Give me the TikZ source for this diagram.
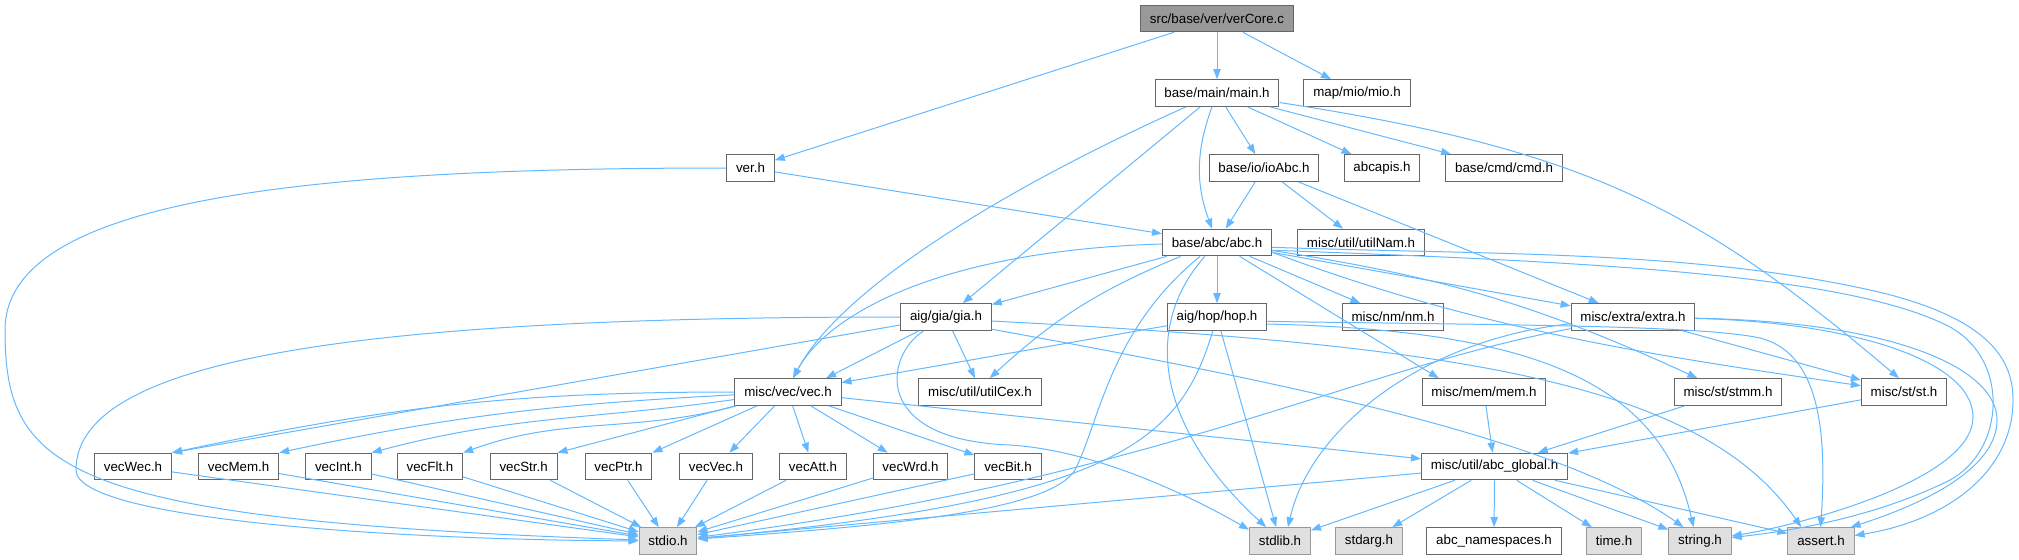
\documentclass[tikz,border=0pt]{standalone}
\usepackage{fontspec}
\setmainfont{Liberation Sans}
\usepackage{color}
\usetikzlibrary{arrows.meta}

\definecolor{edgeblue}{HTML}{63B8FF}
\definecolor{boxline}{HTML}{666666}
\definecolor{sysline}{HTML}{999999}
\definecolor{sysfill}{HTML}{E0E0E0}
\definecolor{rootfill}{HTML}{999999}

\begin{document}
\begin{tikzpicture}[x=0.75pt,y=-0.75pt,
  file/.style={draw=boxline,fill=white,line width=0.75pt,minimum height=20pt,
    inner xsep=7pt,inner ysep=0pt,font=\fontsize{10}{12}\selectfont},
  sysfile/.style={file,draw=sysline,fill=sysfill},
  rootfile/.style={file,fill=rootfill},
  dep/.style={draw=edgeblue,line width=0.75pt,-{Triangle[length=7.5pt,width=5.5pt]}}]
  \useasboundingbox (0,0) rectangle (2019,560);

  % files, row by row
  \node[rootfile] (verCore) at (1217,18.5) {src/base/ver/verCore.c};
  \node[file] (main) at (1217,93) {base/main/main.h};
  \node[file] (mio) at (1357,93) {map/mio/mio.h};
  \node[file] (ver) at (750.5,168) {ver.h};
  \node[file] (ioAbc) at (1264,168) {base/io/ioAbc.h};
  \node[file] (abcapis) at (1382,168) {abcapis.h};
  \node[file] (cmd) at (1504,168) {base/cmd/cmd.h};
  \node[file] (abc) at (1217,242.5) {base/abc/abc.h};
  \node[file] (utilNam) at (1361,242.5) {misc/util/utilNam.h};
  \node[file] (gia) at (946,317) {aig/gia/gia.h};
  \node[file] (hop) at (1217,317) {aig/hop/hop.h};
  \node[file] (nm) at (1393,317) {misc/nm/nm.h};
  \node[file] (extra) at (1633,317) {misc/extra/extra.h};
  \node[file] (vec) at (788,392) {misc/vec/vec.h};
  \node[file] (utilCex) at (980,392) {misc/util/utilCex.h};
  \node[file] (mem) at (1484,392) {misc/mem/mem.h};
  \node[file] (stmm) at (1728,392) {misc/st/stmm.h};
  \node[file] (st) at (1904,392) {misc/st/st.h};
  \node[file] (vecWec) at (133,466.5) {vecWec.h};
  \node[file] (vecMem) at (238.6,466.5) {vecMem.h};
  \node[file] (vecInt) at (338.4,466.5) {vecInt.h};
  \node[file] (vecFlt) at (430,466.5) {vecFlt.h};
  \node[file] (vecStr) at (523.6,466.5) {vecStr.h};
  \node[file] (vecPtr) at (618.5,466.5) {vecPtr.h};
  \node[file] (vecVec) at (716,466.5) {vecVec.h};
  \node[file] (vecAtt) at (813,466.5) {vecAtt.h};
  \node[file] (vecWrd) at (910.5,466.5) {vecWrd.h};
  \node[file] (vecBit) at (1008,466.5) {vecBit.h};
  \node[file] (abcGlobal) at (1494.5,466.5) {misc/util/abc\_global.h};
  \node[sysfile] (stdio) at (668,541) {stdio.h};
  \node[sysfile] (stdlib) at (1280,541) {stdlib.h};
  \node[sysfile] (stdarg) at (1369,541) {stdarg.h};
  \node[file] (abcNs) at (1494,541) {abc\_namespaces.h};
  \node[sysfile] (time) at (1614,541) {time.h};
  \node[sysfile] (string) at (1700,541) {string.h};
  \node[sysfile] (assert) at (1821,541) {assert.h};

  % verCore.c
  \draw[dep] (verCore) -- (ver);
  \draw[dep] (verCore) -- (main);
  \draw[dep] (verCore) -- (mio);

  % main.h
  \draw[dep] (main) -- (ioAbc);
  \draw[dep] (main) -- (abcapis);
  \draw[dep] (main) -- (cmd);
  \draw[dep] (main) -- (gia);
  \draw[dep] (main) to[bend right=20] (abc);
  \draw[dep]
    (main) .. controls (1000,190) and (840,290) .. (vec.70);
  \draw[dep]
    (main) .. controls (1590,150) and (1700,210) .. (st.110);

  % ver.h
  \draw[dep] (ver) -- (abc);
  \draw[dep]
    (ver) .. controls (300,168) and (5,200) .. (5,330)
    .. controls (5,470) and (60,520) .. (stdio);

  % ioAbc.h
  \draw[dep] (ioAbc) -- (abc);
  \draw[dep] (ioAbc) -- (utilNam);
  \draw[dep] (ioAbc) -- (extra);

  % abc.h
  \draw[dep] (abc) -- (gia);
  \draw[dep] (abc) -- (hop);
  \draw[dep] (abc) -- (nm);
  \draw[dep] (abc) -- (extra);
  \draw[dep] (abc) -- (mem.163);
  \draw[dep] (abc) to[bend left=8] (stmm);
  \draw[dep] (abc) to[bend right=10] (utilCex.55);
  \draw[dep]
    (abc) .. controls (950,250) and (830,310) .. (vec.70);
  \draw[dep]
    (abc) .. controls (1110,330) and (1100,420) .. (1075,470)
    .. controls (1050,510) and (900,525) .. (stdio);
  \draw[dep]
    (abc) .. controls (1140,330) and (1160,430) .. (stdlib.135);
  \draw[dep]
    (abc.350) .. controls (1480,330) and (1650,355) .. (st);
  \draw[dep]
    (abc.352) .. controls (1600,262) and (1850,275) .. (1950,327)
    .. controls (2010,360) and (2005,450) .. (1950,480)
    .. controls (1880,515) and (1800,530) .. (string);
  \draw[dep]
    (abc.355) .. controls (1500,255) and (1700,250) .. (1883,293)
    .. controls (1990,320) and (2013,360) .. (2013,400)
    .. controls (2013,470) and (1950,520) .. (assert);

  % gia.h
  \draw[dep] (gia) -- (vec.20);
  \draw[dep] (gia) -- (utilCex.110);
  \draw[dep] (gia) -- (vecWec.north east);
  \draw[dep]
    (gia) .. controls (350,317) and (76,360) .. (76,470)
    .. controls (76,520) and (400,540) .. (stdio);
  \draw[dep]
    (gia) .. controls (885,355) and (870,440) .. (1010,445)
    .. controls (1090,450) and (1180,490) .. (stdlib.160);
  \draw[dep]
    (gia.345) .. controls (1300,385) and (1560,440) .. (string.140);
  \draw[dep]
    (gia.355) .. controls (1450,345) and (1700,380) .. (assert.145);

  % hop.h
  \draw[dep] (hop) -- (vec.10);
  \draw[dep] (hop) -- (stdlib);
  \draw[dep]
    (hop) .. controls (1180,440) and (1120,500) .. (stdio);
  \draw[dep]
    (hop.352) .. controls (1530,330) and (1660,380) .. (string.115);
  \draw[dep]
    (hop.355) .. controls (1500,325) and (1700,325) .. (1760,338)
    .. controls (1815,352) and (1828,420) .. (assert.92);

  % vec.h
  \draw[dep] (vec) to[out=180,in=12] (vecWec.north east);
  \draw[dep] (vec) to[out=183,in=12] (vecMem.north east);
  \draw[dep] (vec) to[out=188,in=15] (vecInt.north east);
  \draw[dep] (vec) to[out=195,in=20] (vecFlt.north east);
  \draw[dep] (vec) -- (vecStr.north east);
  \draw[dep] (vec) -- (vecPtr.north east);
  \draw[dep] (vec) -- (vecVec);
  \draw[dep] (vec) -- (vecAtt);
  \draw[dep] (vec) -- (vecWrd);
  \draw[dep] (vec) -- (vecBit);
  \draw[dep] (vec) -- (abcGlobal);

  % vec*.h
  \draw[dep] (vecWec) -- (stdio);
  \draw[dep] (vecMem) -- (stdio);
  \draw[dep] (vecInt) -- (stdio);
  \draw[dep] (vecFlt) -- (stdio);
  \draw[dep] (vecStr) -- (stdio);
  \draw[dep] (vecPtr) -- (stdio);
  \draw[dep] (vecVec) -- (stdio);
  \draw[dep] (vecAtt) -- (stdio);
  \draw[dep] (vecWrd) -- (stdio);
  \draw[dep] (vecBit) -- (stdio);

  % extra.h
  \draw[dep] (extra) -- (st);
  \draw[dep]
    (extra) .. controls (1350,370) and (1150,480) .. (stdio);
  \draw[dep]
    (extra) .. controls (1420,340) and (1310,430) .. (stdlib.60);
  \draw[dep]
    (extra) .. controls (1850,322) and (1973,360) .. (1973,417)
    .. controls (1973,480) and (1800,525) .. (string);
  \draw[dep]
    (extra) .. controls (1900,322) and (1997,370) .. (1997,420)
    .. controls (1997,470) and (1920,505) .. (assert.25);

  % mem.h, stmm.h, st.h
  \draw[dep] (mem) -- (abcGlobal);
  \draw[dep] (stmm) -- (abcGlobal);
  \draw[dep] (st) -- (abcGlobal);

  % abc_global.h
  \draw[dep] (abcGlobal) -- (stdio);
  \draw[dep] (abcGlobal) -- (stdlib);
  \draw[dep] (abcGlobal) -- (stdarg);
  \draw[dep] (abcGlobal) -- (abcNs);
  \draw[dep] (abcGlobal) -- (time);
  \draw[dep] (abcGlobal) -- (string);
  \draw[dep] (abcGlobal) -- (assert);
\end{tikzpicture}
\end{document}
